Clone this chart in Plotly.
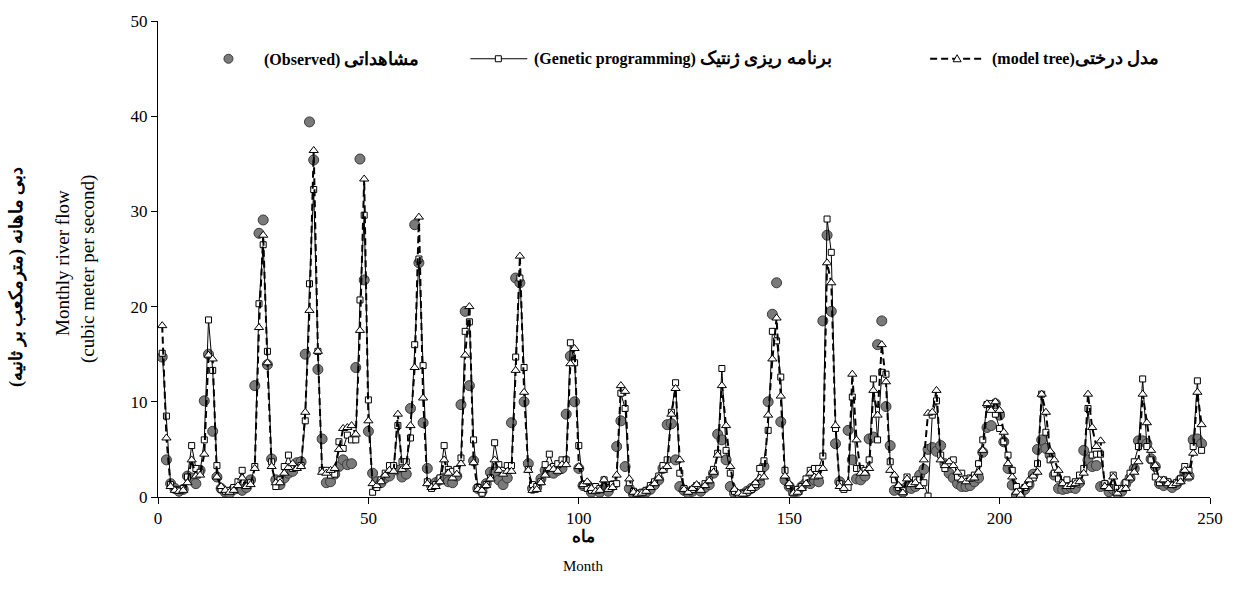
import plotly.graph_objects as go

observed = [
    14.7, 3.9, 1.4, 0.9, 0.6, 0.8, 2.2, 2.0, 1.4, 2.8,
    10.1, 15.0, 6.9, 2.1, 0.9, 0.5, 0.4, 0.8, 0.9, 0.7,
    1.0, 1.8, 11.7, 27.7, 29.1, 13.9, 4.0, 1.8, 1.3, 2.0,
    2.5, 2.7, 3.6, 3.7, 15.0, 39.4, 35.4, 13.4, 6.1, 1.5,
    1.6, 2.4, 3.2, 3.9, 3.4, 3.5, 13.6, 35.5, 22.8, 6.9,
    2.5, 1.6, 1.5, 2.0, 2.2, 3.0, 2.8, 2.1, 2.4, 9.3,
    28.6, 24.6, 7.8, 3.0, 1.2, 1.5, 1.8, 2.0, 1.6, 1.5,
    2.2, 9.7, 19.5, 11.7, 3.8, 0.9, 0.6, 1.4, 2.6, 2.6,
    1.8, 1.3, 2.0, 7.8, 23.0, 22.5, 10.0, 3.5, 0.9, 1.0,
    1.9, 2.8, 2.6, 2.5, 2.8, 3.0, 8.7, 14.8, 10.0, 3.0,
    1.2, 1.25, 0.5, 0.8, 0.5, 0.9, 0.6, 1.2, 5.3, 8.0,
    3.2, 0.9, 0.3, 0.2, 0.3, 0.5, 0.8, 1.3, 1.8, 3.0,
    7.6, 7.7, 3.9, 1.1, 0.7, 0.4, 0.6, 0.9, 0.6, 1.0,
    1.3, 2.5, 6.6, 6.0, 3.9, 1.1, 0.4, 0.2, 0.3, 0.6,
    0.9, 1.2, 1.5, 3.2, 10.0, 19.2, 22.5, 7.9, 1.8, 1.1,
    0.5, 0.6, 1.1, 1.5, 1.4, 1.8, 1.6, 18.5, 27.5, 19.5,
    5.6, 1.6, 1.1, 7.0, 3.9, 1.9, 1.8, 2.2, 6.1, 6.3,
    16.0, 18.5, 9.5, 5.4, 0.7, 0.9, 0.5, 1.1, 0.9, 1.1,
    2.3, 2.9, 5.0, 5.2, 4.8, 5.4, 3.5, 2.5, 2.0, 1.4,
    1.1, 1.1, 1.2, 1.6, 2.0, 4.7, 7.3, 7.5, 9.8, 8.6,
    5.8, 3.0, 1.25, 0.2, 0.4, 0.8, 1.3, 2.4, 5.0, 6.0,
    5.1, 4.4, 2.3, 0.9, 0.8, 0.9, 1.0, 0.9, 1.5, 4.9,
    3.9, 3.2, 3.3, 1.1, 1.25, 0.55, 0.8, 0.4, 0.6, 1.4,
    2.0, 3.0, 5.9, 5.9, 5.6, 4.0, 3.2, 1.4, 1.2, 1.4,
    1.0, 1.3, 1.8, 2.6, 2.2, 6.0, 6.1, 5.6,
]

genetic_programming = [
    15.1, 8.5, 1.3, 0.8, 0.7, 0.9, 2.1, 5.4, 3.0, 2.6,
    6.0, 18.6, 13.3, 3.3, 0.8, 0.6, 0.7, 1.0, 1.6, 2.8,
    1.2, 1.5, 3.2, 20.3, 26.5, 15.3, 3.7, 1.1, 1.8, 3.2,
    4.4, 3.0, 3.1, 3.3, 8.0, 22.4, 32.3, 15.3, 2.8, 2.8,
    2.3, 2.4, 5.8, 5.1, 6.5, 6.0, 6.0, 20.7, 29.6, 10.2,
    0.5, 1.0, 1.8, 2.5, 3.3, 3.3, 7.5, 3.7, 3.7, 6.2,
    16.0, 25.0, 13.8, 1.6, 0.9, 1.3, 2.0, 5.4, 2.9, 2.7,
    2.9, 4.1, 17.4, 18.4, 6.0, 1.0, 0.4, 1.3, 2.0, 5.7,
    3.4, 2.8, 3.3, 3.3, 14.7, 23.0, 13.6, 2.9, 1.3, 1.1,
    1.6, 3.4, 4.5, 3.2, 3.5, 3.9, 3.9, 16.2, 14.1, 5.4,
    1.25, 0.9, 0.7, 1.1, 0.9, 1.8, 1.0, 1.3, 1.4, 10.9,
    9.3, 1.5, 0.6, 0.4, 0.5, 0.7, 1.2, 1.6, 2.2, 3.3,
    3.9, 8.9, 12.0, 2.5, 0.9, 0.6, 0.8, 1.2, 0.9, 1.4,
    1.8, 2.9, 4.6, 13.5, 4.9, 2.5, 0.6, 0.3, 0.4, 0.5,
    0.8, 1.3, 3.0, 3.8, 7.0, 17.4, 16.4, 12.6, 2.8, 1.2,
    0.6, 0.8, 1.1, 1.9, 2.8, 3.0, 3.0, 4.3, 29.2, 25.7,
    7.2, 1.4, 0.8, 1.0, 10.5, 3.0, 3.0, 2.8, 3.9, 12.4,
    6.0, 13.1, 12.9, 3.7, 1.8, 1.0, 0.8, 2.1, 1.5, 1.8,
    1.8, 1.5, 0.1, 8.6, 10.1, 4.4, 3.0, 3.5, 3.9, 2.1,
    2.5, 1.9, 2.0, 2.3, 3.5, 6.0, 9.7, 9.8, 8.7, 7.2,
    5.8, 4.4, 2.8, 1.1, 0.6, 1.0, 1.4, 2.0, 3.5, 10.8,
    6.8, 3.9, 2.5, 1.9, 1.5, 1.8, 1.2, 1.6, 2.3, 3.0,
    9.3, 4.4, 4.5, 4.5, 1.4, 1.0, 2.3, 0.9, 0.9, 1.5,
    2.5, 3.7, 5.3, 12.4, 5.3, 3.9, 2.1, 1.5, 1.8, 1.6,
    1.3, 1.5, 1.9, 3.2, 2.8, 5.3, 12.2, 4.9,
]

model_tree = [
    18.0, 6.2, 1.1, 0.7, 0.6, 0.7, 1.5, 3.9, 2.2, 2.3,
    4.5, 14.9, 14.5, 2.1, 1.1, 0.7, 0.5, 0.7, 1.2, 2.0,
    1.1, 1.3, 3.0, 17.8, 27.5, 14.1, 3.2, 1.5, 1.5, 2.5,
    3.1, 3.5, 3.0, 3.2, 8.9, 19.6, 36.4, 15.3, 2.6, 2.5,
    2.8, 3.0, 5.0, 7.2, 7.3, 7.5, 6.6, 17.5, 33.4, 8.0,
    1.4, 1.2, 1.6, 2.3, 2.8, 2.7, 8.7, 2.9, 3.2, 7.5,
    13.6, 29.4, 10.4, 1.4, 1.0, 1.1, 1.6, 3.9, 2.5, 2.0,
    2.4, 3.5, 14.9, 20.0, 3.6, 0.8, 0.7, 1.2, 1.9, 3.9,
    2.8, 2.4, 2.7, 2.7, 13.3, 25.3, 11.0, 2.8, 0.7, 0.8,
    1.5, 2.3, 3.0, 2.9, 2.7, 3.4, 3.4, 14.0, 15.6, 3.2,
    1.3, 1.6, 0.9, 0.6, 0.7, 1.8, 0.8, 1.0, 2.3, 11.7,
    11.1, 1.9, 0.5, 0.3, 0.4, 0.6, 1.0, 1.4, 2.0, 2.8,
    3.2, 8.7, 11.4, 3.9, 0.8, 0.5, 0.9, 1.3, 0.7, 1.2,
    1.7, 2.6, 4.4, 11.7, 7.5, 3.2, 0.8, 0.4, 0.3, 0.6,
    0.9, 1.5, 2.0, 2.1, 8.6, 14.5, 18.8, 10.6, 2.2, 1.4,
    0.4, 0.5, 0.9, 1.4, 2.5, 2.1, 2.2, 3.0, 24.6, 22.5,
    7.5, 1.1, 0.9, 1.5, 12.9, 6.0, 2.5, 2.5, 3.0, 11.2,
    8.6, 16.0, 12.1, 2.8, 2.3, 1.2, 0.45, 1.9, 1.3, 1.5,
    1.1, 3.9, 8.8, 8.9, 11.2, 3.9, 3.3, 3.7, 3.3, 2.6,
    1.8, 1.6, 1.9, 2.0, 2.6, 4.9, 9.8, 9.1, 10.0, 9.1,
    6.8, 3.5, 2.1, 0.5, 0.2, 1.1, 1.8, 2.2, 2.6, 10.8,
    8.9, 4.8, 3.9, 2.8, 1.4, 1.1, 1.3, 1.4, 1.6, 2.5,
    10.8, 7.3, 5.3, 5.9, 1.1, 0.9, 2.1, 0.4, 0.8, 0.9,
    2.0, 2.6, 3.7, 10.8, 7.8, 4.9, 3.3, 1.8, 1.8, 1.4,
    1.2, 1.4, 1.6, 2.8, 2.1, 4.6, 11.0, 7.6,
]

months = list(range(1, len(observed) + 1))

x_ticks = [0, 50, 100, 150, 200, 250]
y_ticks = [0, 10, 20, 30, 40, 50]

legend_en = ["(Observed)", "(Genetic programming)", "(model tree)"]
legend_fa = ["مشاهداتی", "برنامه ریزی ژنتیک", "مدل درختی"]
y_title_fa = "دبی ماهانه (مترمکعب بر ثانیه)"
y_title_en1 = "Monthly river flow"
y_title_en2 = "(cubic meter per second)"
x_title_fa = "ماه"
x_title_en = "Month"

W, H = 1260, 590
L, R, T, B = 157.5, 50, 18, 93
PW, PH = W - L - R, H - T - B


def px(xp):
    return (xp - L) / PW


def py(yp):
    return (H - B - yp) / PH


SERIF = "Liberation Serif, Times New Roman, DejaVu Serif, serif"

fig = go.Figure()
n = min(len(months), len(observed), len(genetic_programming), len(model_tree))
fig.add_trace(go.Scatter(
    x=months[:n], y=observed[:n], mode="markers",
    name=legend_en[0] + " " + legend_fa[0],
    marker=dict(symbol="circle", size=10, color="#7a7a7a",
                line=dict(color="#3a3a3a", width=1)),
))
fig.add_trace(go.Scatter(
    x=months[:n], y=genetic_programming[:n], mode="lines+markers",
    name=legend_en[1] + " " + legend_fa[1],
    line=dict(color="black", width=1),
    marker=dict(symbol="square", size=6, color="white",
                line=dict(color="black", width=1)),
))
fig.add_trace(go.Scatter(
    x=months[:n], y=model_tree[:n], mode="lines+markers",
    name=legend_en[2] + legend_fa[2],
    line=dict(color="black", width=2, dash="7px,4px"),
    marker=dict(symbol="triangle-up", size=8, color="white",
                line=dict(color="black", width=1)),
))

shapes = []
annotations = []
ly = py(56)


def legend_text(en, fa, sep=" "):
    return ("<b>" + en + sep + "<span style='font-size:18px'>" + fa +
            "</span></b>")


# legend: observed
shapes.append(dict(type="circle", xref="paper", yref="paper",
                   xsizemode="pixel", ysizemode="pixel",
                   xanchor=px(228), yanchor=ly, x0=-4.5, x1=4.5, y0=-4.5, y1=4.5,
                   fillcolor="#7a7a7a", line=dict(color="#3a3a3a", width=1)))
annotations.append(dict(x=px(262), y=ly, xref="paper", yref="paper",
                        text=legend_text(legend_en[0], legend_fa[0]),
                        showarrow=False, xanchor="left", yanchor="middle",
                        font=dict(family=SERIF, size=16, color="black")))
# legend: GP
shapes.append(dict(type="line", xref="paper", yref="paper",
                   x0=px(470), x1=px(527), y0=ly, y1=ly,
                   line=dict(color="black", width=1)))
shapes.append(dict(type="rect", xref="paper", yref="paper",
                   xsizemode="pixel", ysizemode="pixel",
                   xanchor=px(498), yanchor=ly, x0=-3, x1=3, y0=-3, y1=3,
                   fillcolor="white", line=dict(color="black", width=1)))
annotations.append(dict(x=px(532), y=ly, xref="paper", yref="paper",
                        text=legend_text(legend_en[1], legend_fa[1]),
                        showarrow=False, xanchor="left", yanchor="middle",
                        font=dict(family=SERIF, size=16, color="black")))
# legend: model tree
shapes.append(dict(type="line", xref="paper", yref="paper",
                   x0=px(930), x1=px(985), y0=ly, y1=ly,
                   line=dict(color="black", width=2, dash="7px,4px")))
shapes.append(dict(type="path", xref="paper", yref="paper",
                   xsizemode="pixel", ysizemode="pixel",
                   xanchor=px(957), yanchor=ly,
                   path="M -4,-3 L 4,-3 L 0,4 Z",
                   fillcolor="white", line=dict(color="black", width=1)))
annotations.append(dict(x=px(990), y=ly, xref="paper", yref="paper",
                        text=legend_text(legend_en[2], legend_fa[2], sep=""),
                        showarrow=False, xanchor="left", yanchor="middle",
                        font=dict(family=SERIF, size=16, color="black")))

# y-axis titles
annotations.append(dict(x=px(16), y=py(276), xref="paper", yref="paper",
                        text="<b>" + y_title_fa + "</b>", showarrow=False,
                        textangle=-90, xanchor="center", yanchor="middle",
                        font=dict(family=SERIF, size=18, color="black")))
annotations.append(dict(x=px(62), y=py(262), xref="paper", yref="paper",
                        text=y_title_en1, showarrow=False,
                        textangle=-90, xanchor="center", yanchor="middle",
                        font=dict(family=SERIF, size=19, color="black")))
annotations.append(dict(x=px(88), y=py(268), xref="paper", yref="paper",
                        text=y_title_en2, showarrow=False,
                        textangle=-90, xanchor="center", yanchor="middle",
                        font=dict(family=SERIF, size=19, color="black")))
# x-axis titles
annotations.append(dict(x=px(583), y=py(537), xref="paper", yref="paper",
                        text="<b>" + x_title_fa + "</b>", showarrow=False,
                        xanchor="center", yanchor="middle",
                        font=dict(family=SERIF, size=17, color="black")))
annotations.append(dict(x=px(583), y=py(566), xref="paper", yref="paper",
                        text=x_title_en, showarrow=False,
                        xanchor="center", yanchor="middle",
                        font=dict(family=SERIF, size=15, color="black")))

fig.update_layout(
    width=W, height=H,
    margin=dict(l=L, r=R, t=T, b=B, pad=0),
    paper_bgcolor="white", plot_bgcolor="white",
    showlegend=False,
    shapes=shapes, annotations=annotations,
    font=dict(family=SERIF, size=16, color="black"),
    xaxis=dict(range=[0, 250], tickvals=x_ticks, ticks="outside", ticklen=6,
               tickcolor="black", showline=True, linecolor="black", linewidth=1,
               showgrid=False, zeroline=False,
               tickfont=dict(family=SERIF, size=17, color="black")),
    yaxis=dict(range=[0, 50], tickvals=y_ticks, ticks="outside", ticklen=6,
               tickcolor="black", showline=True, linecolor="black", linewidth=1,
               showgrid=False, zeroline=False,
               tickfont=dict(family=SERIF, size=17, color="black")),
)

fig.write_html("out.html")
